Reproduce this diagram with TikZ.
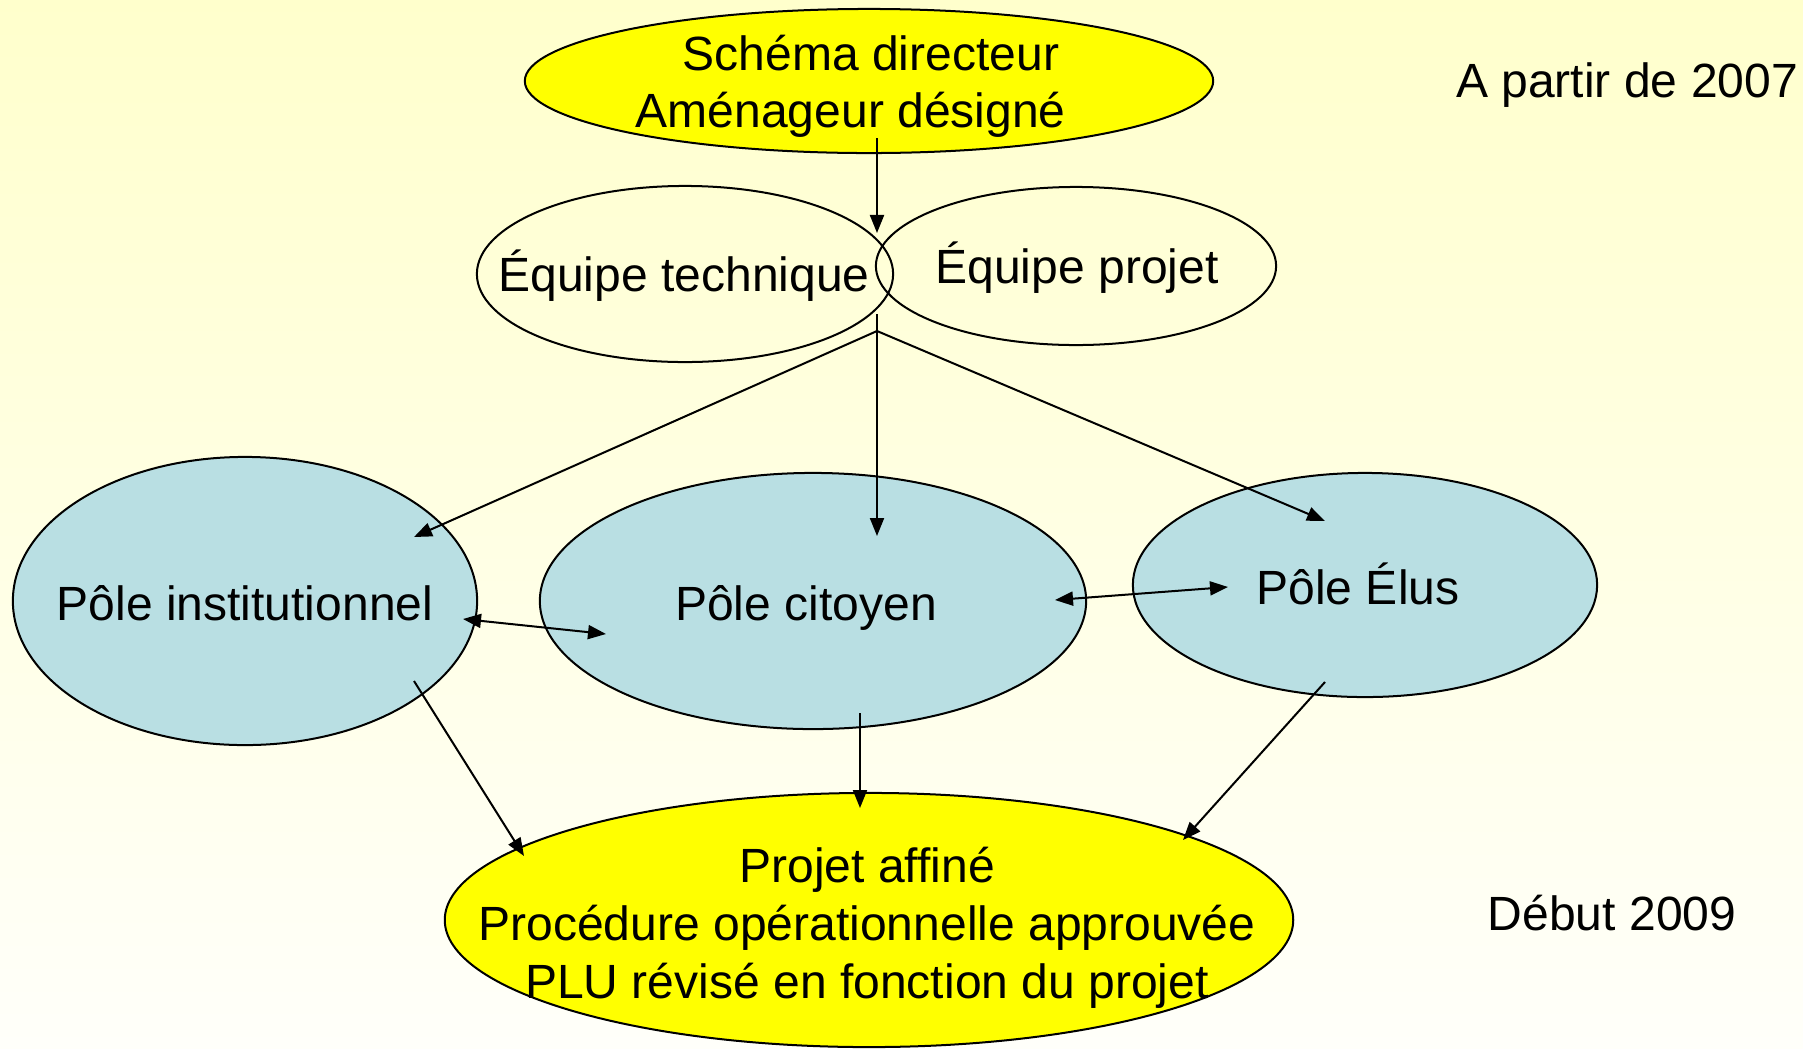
\documentclass[tikz,border=0pt]{standalone}
\usepackage{fontspec}
\setmainfont{Liberation Sans}
\usetikzlibrary{shapes.geometric,arrows.meta}

\definecolor{paleyellow}{HTML}{FFFFCC}
\definecolor{paleend}{HTML}{FFFFFA}
\definecolor{poleblue}{HTML}{B9DFE3}
\definecolor{brightyellow}{HTML}{FFFF00}

\begin{document}
\begin{tikzpicture}[x=0.01cm, y=-0.01cm,
  bubble/.style={ellipse, draw, line width=0.57pt, inner sep=0pt},
  label/.style={inner sep=0pt, align=center, font=\fontsize{13.66pt}{16.5pt}\selectfont},
  link/.style={line width=0.57pt, -{Triangle[length=0.18cm, width=0.14cm]}},
  twoway/.style={line width=0.57pt, {Triangle[length=0.18cm, width=0.14cm]}-{Triangle[length=0.18cm, width=0.14cm]}}]
  \useasboundingbox (0,0) rectangle (1803,1048);
  \shade[top color=paleyellow, bottom color=paleend] (0,0) rectangle (1803,1048);

  % Nodes
  \node[bubble, fill=brightyellow, minimum width=6.88cm, minimum height=1.44cm] (directeur) at (869,81) {};
  \node[bubble, minimum width=4.16cm, minimum height=1.76cm] (technique) at (685,274) {};
  \node[bubble, minimum width=4.0cm, minimum height=1.58cm] (projet) at (1076,266) {};
  \node[bubble, fill=poleblue, minimum width=4.64cm, minimum height=2.88cm] (institutionnel) at (245,601) {};
  \node[bubble, fill=poleblue, minimum width=5.46cm, minimum height=2.56cm] (citoyen) at (813,601) {};
  \node[bubble, fill=poleblue, minimum width=4.64cm, minimum height=2.24cm] (elus) at (1365,585) {};
  \node[bubble, fill=brightyellow, minimum width=8.48cm, minimum height=2.54cm] (affine) at (869,920) {};

  \node[label, anchor=base west] (schematext) at (682,70) {Schéma directeur};
  \node[label, anchor=base west] (amenageurtext) at (635,127) {Aménageur désigné};
  \node[label] (techniquetext) at (684,276) {Équipe technique};
  \node[label] (projettext) at (1077,268) {Équipe projet};
  \node[label] (institutionneltext) at (245,603) {Pôle institutionnel};
  \node[label] (citoyentext) at (806,608) {Pôle citoyen};
  \node[label] (elustext) at (1358,584) {Pôle Élus};
  \node[label] (affinetext) at (867,928) {Projet affiné\\Procédure opérationnelle approuvée\\PLU révisé en fonction du projet};
  \node[label] (debut2007) at (1627,85) {A partir de 2007};
  \node[label] (debut2009) at (1612,913) {Début 2009};

  % Arrow ends
  \coordinate (dirout) at (877,138);
  \coordinate (equipein) at (877,233);
  \coordinate (equipeout) at (877,314);
  \coordinate (hub) at (877,331);
  \coordinate (instin) at (414,537);
  \coordinate (citin) at (877,536);
  \coordinate (elusin) at (1325,521);
  \coordinate (instright) at (463,619);
  \coordinate (citleft) at (606,634);
  \coordinate (citright) at (1055,600);
  \coordinate (elusleft) at (1228,587);
  \coordinate (instout) at (414,681);
  \coordinate (citout) at (860,713);
  \coordinate (elusout) at (1325,682);
  \coordinate (affinein1) at (524,856);
  \coordinate (affinein2) at (860,808);
  \coordinate (affinein3) at (1183,840);

  % Edges
  \draw[link] (dirout) -- (equipein);
  \draw[link] (equipeout) -- (citin);
  \draw[link] (hub) -- (instin);
  \draw[link] (hub) -- (elusin);
  \draw[twoway] (instright) -- (citleft);
  \draw[twoway] (citright) -- (elusleft);
  \draw[link] (instout) -- (affinein1);
  \draw[link] (citout) -- (affinein2);
  \draw[link] (elusout) -- (affinein3);
\end{tikzpicture}
\end{document}
